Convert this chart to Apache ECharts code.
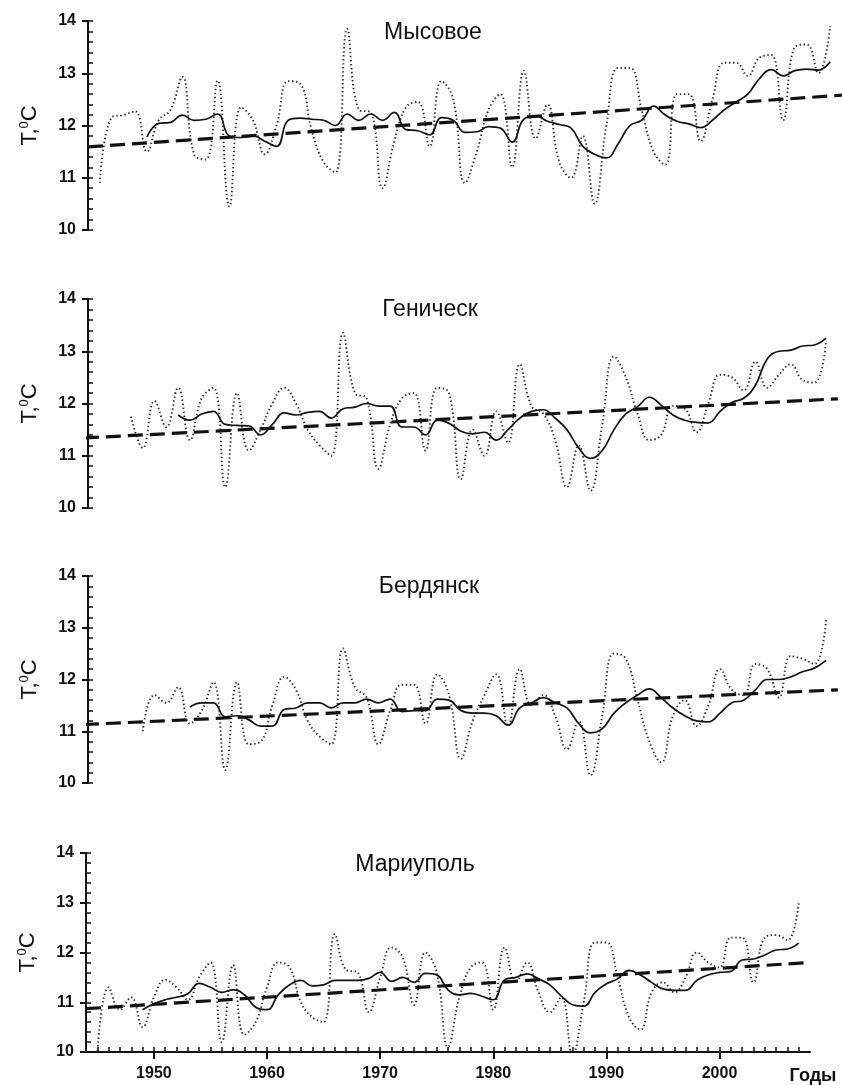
<!DOCTYPE html>
<html>
<head>
<meta charset="utf-8">
<script src="https://cdn.jsdelivr.net/npm/echarts@6/dist/echarts.min.js"></script>
<style>
  html, body { margin: 0; padding: 0; background: #ffffff; }
  #chart { width: 842px; height: 1085px; }
</style>
</head>
<body>
<div id="chart"></div>
<script>
// ---------------- DATA ----------------
const stationNames = ['Мысовое', 'Геническ', 'Бердянск', 'Мариуполь'];

// Annual mean temperature (dotted), first year given separately
const mysAnnualFrom = 1945;
const mysAnnual = [10.9, 12.15, 12.2, 12.27, 11.5, 12.1, 12.3, 12.93, 11.45, 11.35,
  12.86, 10.45, 12.35, 12.1, 11.45, 12.0, 12.85, 12.8, 11.9, 11.3,
  11.1, 13.85, 12.3, 12.25, 10.8, 11.7, 12.35, 12.45, 11.6, 12.85,
  12.5, 10.9, 11.5, 12.3, 12.6, 11.2, 13.05, 11.75, 12.4, 11.3,
  11.0, 11.8, 10.5, 12.0, 13.1, 13.1, 12.3, 11.5, 11.25, 12.6,
  12.6, 11.7, 12.5, 13.2, 13.2, 12.95, 13.3, 13.35, 12.1, 13.5,
  13.55, 13.0, 13.9];

const genAnnualFrom = 1948;
const genAnnual = [11.75, 11.15, 12.05, 11.55, 12.3, 11.3, 12.1, 12.3, 10.4, 12.2,
  11.1, 11.5, 12.0, 12.3, 12.0, 11.5, 11.2, 11.0, 13.35, 12.2,
  12.1, 10.75, 11.6, 12.1, 12.2, 11.1, 12.3, 12.2, 10.55, 11.5,
  11.0, 11.85, 11.25, 12.75, 11.95, 11.8, 11.3, 10.4, 11.2, 10.33,
  11.6, 12.9, 12.5, 11.8, 11.3, 11.4, 11.95, 11.9, 11.45, 12.0,
  12.55, 12.5, 12.25, 12.8, 12.3, 12.55, 12.75, 12.45, 12.4, 13.2];

const berAnnualFrom = 1949;
const berAnnual = [11.0, 11.7, 11.55, 11.85, 11.15, 11.4, 11.95, 10.25, 11.95, 10.75,
  10.8, 11.5, 12.05, 11.8, 11.2, 10.9, 10.75, 12.6, 11.85, 11.65,
  10.75, 11.4, 11.9, 11.9, 11.15, 12.1, 11.7, 10.47, 11.2, 11.7,
  12.1, 11.1, 12.2, 11.5, 11.7, 11.3, 10.65, 11.2, 10.15, 11.3,
  12.5, 12.4, 11.6, 10.8, 10.4, 11.3, 11.6, 11.1, 11.5, 12.2,
  11.8, 11.7, 12.3, 12.2, 11.65, 12.45, 12.4, 12.3, 13.15];

const marAnnualFrom = 1945;
const marAnnual = [9.95, 11.3, 10.85, 11.1, 10.5, 11.1, 11.45, 11.3, 11.05, 11.5,
  11.8, 10.2, 11.75, 10.35, 10.6, 11.3, 11.8, 11.7, 11.0, 10.7,
  10.6, 12.37, 11.65, 11.6, 10.8, 11.5, 12.1, 11.9, 10.95, 12.0,
  11.6, 10.1, 11.1, 11.7, 11.8, 10.85, 12.1, 11.4, 11.8, 11.2,
  10.8, 11.1, 9.95, 11.0, 12.2, 12.2, 11.5, 10.7, 10.45, 11.2,
  11.4, 11.2, 11.5, 12.0, 11.8, 11.7, 12.3, 12.3, 11.4, 12.3,
  12.35, 12.25, 13.0];

// Smoothed temperature (solid)
const mysSmoothFrom = 1949;
const mysSmooth = [11.78, 12.04, 12.06, 12.2, 12.1, 12.12, 12.22, 11.8, 11.77, 11.8,
  11.7, 11.6, 12.1, 12.14, 12.12, 12.1, 12.0, 12.22, 12.1, 12.22,
  12.1, 12.25, 11.92, 11.9, 11.82, 12.15, 12.1, 11.87, 11.88, 11.98,
  11.95, 11.68, 12.12, 12.18, 12.08, 12.02, 11.95, 11.6, 11.45, 11.38,
  11.65, 12.0, 12.1, 12.37, 12.2, 12.08, 12.03, 11.96, 12.1, 12.3,
  12.45, 12.6, 12.9, 13.07, 12.95, 13.05, 13.08, 13.06, 13.22];

const genSmoothFrom = 1952;
const genSmooth = [11.78, 11.68, 11.8, 11.85, 11.6, 11.58, 11.57, 11.4, 11.6, 11.82,
  11.78, 11.83, 11.85, 11.72, 11.9, 11.93, 12.0, 11.95, 11.95, 11.55,
  11.55, 11.4, 11.68, 11.62, 11.47, 11.42, 11.45, 11.3, 11.5, 11.72,
  11.85, 11.88, 11.72, 11.5, 11.15, 10.95, 11.1, 11.5, 11.8, 11.94,
  12.12, 11.97, 11.78, 11.68, 11.64, 11.63, 11.85, 12.02, 12.1, 12.35,
  12.85, 13.0, 13.02, 13.1, 13.12, 13.25];

const berSmoothFrom = 1953;
const berSmooth = [11.47, 11.55, 11.55, 11.28, 11.3, 11.22, 11.1, 11.1, 11.42, 11.45,
  11.55, 11.55, 11.45, 11.55, 11.55, 11.62, 11.55, 11.62, 11.38, 11.4,
  11.4, 11.62, 11.6, 11.4, 11.35, 11.35, 11.3, 11.12, 11.45, 11.55,
  11.65, 11.55, 11.45, 11.15, 10.97, 11.05, 11.35, 11.55, 11.7, 11.82,
  11.65, 11.45, 11.3, 11.2, 11.18, 11.35, 11.55, 11.6, 11.8, 12.0,
  12.0, 12.05, 12.15, 12.22, 12.37];

const marSmoothFrom = 1949;
const marSmooth = [10.85, 10.97, 11.05, 11.1, 11.17, 11.38, 11.3, 11.2, 11.25, 11.15,
  10.9, 10.85, 11.15, 11.35, 11.44, 11.33, 11.35, 11.44, 11.44, 11.44,
  11.48, 11.6, 11.42, 11.5, 11.4, 11.58, 11.55, 11.25, 11.15, 11.18,
  11.12, 11.05, 11.45, 11.5, 11.57, 11.47, 11.35, 11.13, 10.95, 10.92,
  11.2, 11.37, 11.47, 11.64, 11.55, 11.4, 11.27, 11.24, 11.24, 11.44,
  11.55, 11.6, 11.62, 11.85, 11.87, 11.95, 12.05, 12.07, 12.19];

// Linear trends (dashed): [year, value] at both ends
const mysTrend = [[1944, 11.59], [2008, 12.58]];
const genTrend = [[1944, 11.34], [2008, 12.09]];
const berTrend = [[1944, 11.13], [2008, 11.8]];
const marTrend = [[1944, 10.87], [2008, 11.8]];

// Axis tick labels
const yTicks = [10, 11, 12, 13, 14];
const xLabelYears = [1950, 1960, 1970, 1980, 1990, 2000];
const xMinorYears = [1945,1946,1947,1948,1949,1950,1951,1952,1953,1954,1955,1956,1957,1958,1959,
  1960,1961,1962,1963,1964,1965,1966,1967,1968,1969,1970,1971,1972,1973,1974,1975,1976,1977,1978,1979,
  1980,1981,1982,1983,1984,1985,1986,1987,1988,1989,1990,1991,1992,1993,1994,1995,1996,1997,1998,1999,
  2000,2001,2002,2003,2004,2005,2006,2007];
const xAxisTitle = 'Годы';

// ---------------- LAYOUT ----------------
const panels = [
  { annual: mysAnnual, aFrom: mysAnnualFrom, smooth: mysSmooth, sFrom: mysSmoothFrom, trend: mysTrend,
    grid: { left: 88, top: 21, width: 759, height: 209 }, xMin: 1944, xMax: 2008, titleX: 433, titleY: 33 },
  { annual: genAnnual, aFrom: genAnnualFrom, smooth: genSmooth, sFrom: genSmoothFrom, trend: genTrend,
    grid: { left: 88, top: 299, width: 759, height: 209 }, xMin: 1944.35, xMax: 2008.35, titleX: 430, titleY: 310 },
  { annual: berAnnual, aFrom: berAnnualFrom, smooth: berSmooth, sFrom: berSmoothFrom, trend: berTrend,
    grid: { left: 88, top: 576, width: 759, height: 207 }, xMin: 1944.35, xMax: 2008.35, titleX: 429, titleY: 587 },
  { annual: marAnnual, aFrom: marAnnualFrom, smooth: marSmooth, sFrom: marSmoothFrom, trend: marTrend,
    grid: { left: 86, top: 853, width: 724, height: 199 }, xMin: 1944, xMax: 2008, titleX: 415, titleY: 865 }
];

const FONT = '"Liberation Sans", Arial, sans-serif';
const grids = [], xAxes = [], yAxes = [], series = [], graphics = [];

panels.forEach((p, i) => {
  grids.push(Object.assign({ containLabel: false }, p.grid));
  const isLast = i === panels.length - 1;

  const xi = xAxes.length;
  xAxes.push({
    type: 'value', gridIndex: i, min: p.xMin, max: p.xMax,
    show: isLast,
    axisLine: { show: true, onZero: false, lineStyle: { color: '#111', width: 2 } },
    axisTick: { show: true, inside: false, length: 7, customValues: xLabelYears, lineStyle: { color: '#111', width: 2 } },
    axisLabel: { show: true, customValues: xLabelYears, margin: 14, color: '#111',
      fontFamily: FONT, fontSize: 16, fontWeight: 'bold', formatter: v => String(v) },
    splitLine: { show: false }
  });
  if (isLast) {
    xAxes.push({
      type: 'value', gridIndex: i, min: p.xMin, max: p.xMax, position: 'bottom',
      axisLine: { show: false },
      axisTick: { show: true, inside: true, length: 5, customValues: xMinorYears, lineStyle: { color: '#111', width: 1.5 } },
      axisLabel: { show: false },
      splitLine: { show: false }
    });
  }

  const yi = yAxes.length;
  yAxes.push({
    type: 'value', gridIndex: i, min: 10, max: 14, interval: 1, position: 'left',
    axisLine: { show: true, onZero: false, lineStyle: { color: '#111', width: 2 } },
    axisTick: { show: true, inside: false, length: 6, lineStyle: { color: '#111', width: 2 } },
    axisLabel: { show: true, margin: 12, color: '#111', fontFamily: FONT, fontSize: 16, fontWeight: 'bold',
      formatter: v => yTicks.indexOf(v) >= 0 ? String(v) : '' },
    splitLine: { show: false },
    name: '{t|T,}{s|0}{t|C}',
    nameLocation: 'middle', nameRotate: 90, nameGap: 47,
    nameTextStyle: { rich: {
      t: { fontFamily: FONT, fontSize: 22, color: '#111', fontWeight: 'normal' },
      s: { fontFamily: FONT, fontSize: 13, color: '#111', padding: [0, 0, 10, 0] }
    } }
  });
  yAxes.push({
    type: 'value', gridIndex: i, min: 10, max: 14, interval: 0.2, position: 'left',
    axisLine: { show: false },
    axisTick: { show: true, inside: true, length: 5, lineStyle: { color: '#111', width: 1.5 } },
    axisLabel: { show: false }, splitLine: { show: false }
  });

  const annualData = p.annual.map((v, k) => [p.aFrom + k, v]);
  const smoothData = p.smooth.map((v, k) => [p.sFrom + k, v]);

  series.push({
    type: 'line', xAxisIndex: xi, yAxisIndex: yi, data: annualData, smooth: 0.45,
    showSymbol: false, silent: true, clip: true,
    lineStyle: { color: '#2a2a2a', width: 1.9, type: [1.4, 2.6] }, z: 2
  });
  series.push({
    type: 'line', xAxisIndex: xi, yAxisIndex: yi, data: smoothData, smooth: 0.45,
    showSymbol: false, silent: true, clip: true,
    lineStyle: { color: '#111', width: 1.7, type: 'solid' }, z: 3
  });
  series.push({
    type: 'line', xAxisIndex: xi, yAxisIndex: yi, data: p.trend, smooth: false,
    showSymbol: false, silent: true, clip: true,
    lineStyle: { color: '#111', width: 3.2, type: [15, 7] }, z: 4
  });

  graphics.push({
    type: 'text', x: p.titleX, y: p.titleY,
    style: { text: stationNames[i], fill: '#111', font: 'normal 23px ' + FONT,
      textAlign: 'center', textVerticalAlign: 'middle' }
  });
});

graphics.push({
  type: 'text', x: 813, y: 1076,
  style: { text: xAxisTitle, fill: '#111', font: 'bold 18px ' + FONT, textAlign: 'center', textVerticalAlign: 'middle' }
});

const chart = echarts.init(document.getElementById('chart'), null, { renderer: 'canvas' });
chart.setOption({
  animation: false,
  backgroundColor: '#ffffff',
  grid: grids,
  xAxis: xAxes,
  yAxis: yAxes,
  series: series,
  graphic: graphics
});
</script>
</body>
</html>
